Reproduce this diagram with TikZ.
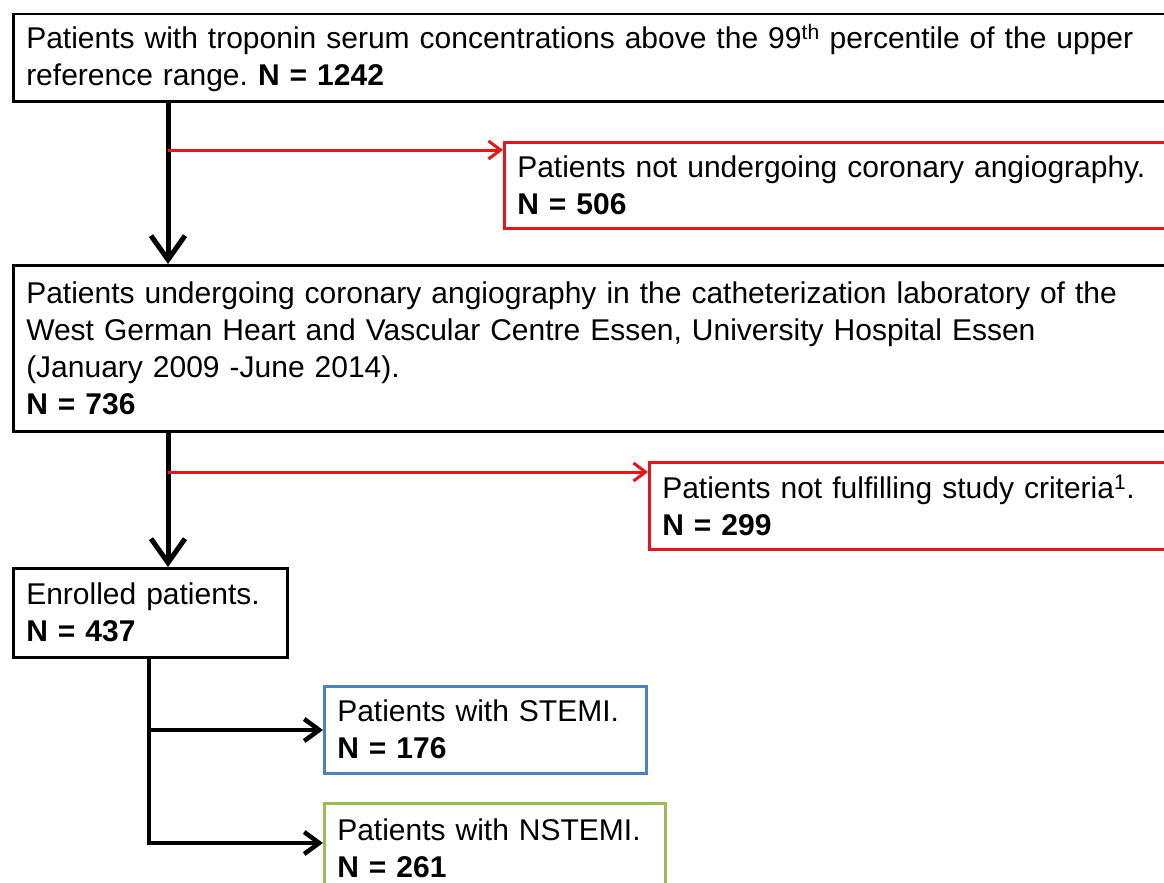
\documentclass[tikz,border=0pt]{standalone}
\usepackage{fontspec}
\setmainfont{Liberation Sans}
\usetikzlibrary{positioning, arrows.meta, calc}
\definecolor{exclred}{RGB}{228,22,26}
\definecolor{stemiblue}{RGB}{79,129,189}
\definecolor{nstemigreen}{RGB}{155,187,89}
\frenchspacing
\tikzset{
  flowbox/.style={draw, line width=2.5pt, anchor=north west, align=left,
    inner xsep=13pt, inner ysep=0pt,
    font=\fontsize{30}{37}\selectfont},
  exclbox/.style={flowbox, draw=exclred},
  mainarrow/.style={line width=5pt, -{Straight Barb[length=24pt, width=34pt]}},
  exclarrow/.style={line width=3pt, exclred, -{Straight Barb[length=12pt, width=18pt]}},
  subarrow/.style={line width=4.5pt, -{Straight Barb[length=15pt, width=22pt]}}
}

\begin{document}
\begin{tikzpicture}[x=1pt, y=1pt]
\useasboundingbox (0,0) rectangle (1164,-883);
\clip (0,0) rectangle (1164,-883);
\fill[white] (0,0) rectangle (1164,-883);

% boxes
\node[flowbox, text width=1147pt, minimum height=87pt] (screened) at (12,-13)
  {Patients with troponin serum concentrations above the 99\textsuperscript{th} percentile of the upper\\
   reference range. \textbf{N = 1242}};
\node[exclbox, text width=656pt, minimum height=86pt] (notangio) at (503,-141)
  {Patients not undergoing coronary angiography.\\ \textbf{N = 506}};
\node[flowbox, text width=1147pt, minimum height=166pt] (angio) at (12,-264)
  {Patients undergoing coronary angiography in the catheterization laboratory of the\\
   West German Heart and Vascular Centre Essen, University Hospital Essen\\
   (January 2009 -June 2014).\\
   \textbf{N = 736}};
\node[exclbox, text width=511pt, minimum height=87pt] (notcrit) at (648,-461)
  {Patients not fulfilling study criteria\textsuperscript{1}.\\ \textbf{N = 299}};
\node[flowbox, text width=248pt, minimum height=89pt] (enrolled) at (12,-567)
  {Enrolled patients.\\ \textbf{N = 437}};
\node[flowbox, draw=stemiblue, text width=296pt, minimum height=87pt] (stemi) at (323,-685)
  {Patients with STEMI.\\ \textbf{N = 176}};
\node[flowbox, draw=nstemigreen, text width=315pt, minimum height=90pt] (nstemi) at (323,-802)
  {Patients with NSTEMI.\\ \textbf{N = 261}};

% connectors
\coordinate (trunkA) at (168,-150);
\coordinate (trunkB) at (168,-472);
\coordinate (forkS) at (149,-730);
\coordinate (forkN) at (149,-843);

\draw[mainarrow] (screened.south -| trunkA) -- (angio.north -| trunkA);
\draw[exclarrow] (trunkA) -- (trunkA -| notangio.west);
\draw[mainarrow] (angio.south -| trunkB) -- (enrolled.north -| trunkB);
\draw[exclarrow] (trunkB) -- (trunkB -| notcrit.west);
\draw[subarrow] (enrolled.south -| forkN) |- (forkN -| nstemi.west);
\draw[subarrow] (forkS) -- (forkS -| stemi.west);
\end{tikzpicture}
\end{document}
